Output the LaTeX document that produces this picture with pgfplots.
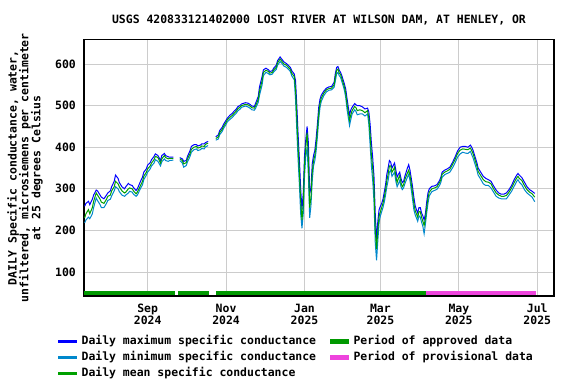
\documentclass[border=0pt]{standalone}
\usepackage{pgfplots}
\usepackage{pgfplotstable}
\pgfplotsset{compat=1.18}
\usepackage{fontspec}
\setmonofont{DejaVu Sans Mono}
\definecolor{maxblue}{RGB}{0,0,255}
\definecolor{minteal}{RGB}{0,136,204}
\definecolor{meangreen}{RGB}{0,160,0}
\definecolor{apgreen}{RGB}{0,153,0}
\definecolor{provmag}{RGB}{238,68,221}
\definecolor{gridgray}{RGB}{204,204,204}
\newcommand{\pf}{\ttfamily\bfseries\fontsize{11.5}{12}\selectfont}

% day numbers counted from 2024-07-01 (Aug 1 = 31, Sep 1 = 62, Jan 1 2025 = 184, Jul 1 2025 = 365)
\pgfplotstableread{
d mx mn me
13 258 218 230
14 265 225 240
16 270 232 250
17 262 228 240
19 275 240 255
20 285 255 270
22 297 278 290
23 295 272 285
25 285 262 275
26 280 255 268
28 276 255 265
30 285 265 275
31 290 272 282
33 295 275 285
34 305 283 295
36 318 295 305
37 333 305 318
39 325 300 312
40 315 293 305
42 305 285 295
44 300 282 290
45 305 285 292
47 313 290 300
48 310 294 302
50 308 292 300
51 303 287 295
53 296 282 288
54 300 285 292
56 315 298 305
58 328 310 318
59 340 322 330
61 348 333 340
62 357 340 348
64 363 348 355
65 370 355 362
67 378 362 370
68 384 370 378
70 380 366 375
72 368 355 362
73 380 365 372
75 385 372 380
76 380 368 375
78 377 366 372
79 376 368 373
82 376 369 373
83 nan nan nan
87 375 368 372
89 372 362 368
90 366 352 360
92 368 356 363
93 378 365 372
95 392 378 385
96 402 388 395
98 406 394 400
100 406 396 402
101 403 392 398
103 405 394 400
104 408 397 403
106 408 396 402
107 411 401 407
109 414 404 410
110 nan nan nan
115 425 417 421
117 430 420 425
118 440 430 435
120 448 438 443
121 455 445 450
123 465 455 460
124 470 461 466
126 477 467 472
128 482 472 477
129 486 476 481
131 492 482 487
132 497 487 492
134 501 492 497
135 504 496 500
137 506 498 502
138 507 499 503
140 506 497 502
142 502 493 498
143 499 490 495
145 498 489 494
146 506 494 500
148 522 508 515
149 545 525 535
151 570 550 560
152 586 572 580
154 590 580 585
156 586 577 582
157 582 574 578
159 584 576 580
160 590 581 586
162 597 587 592
163 608 597 603
165 617 606 612
166 613 603 608
168 605 595 600
170 601 592 597
171 598 589 594
173 592 582 587
174 584 572 578
176 576 562 570
177 560 515 540
178 500 440 470
179 430 370 400
180 370 310 340
181 300 240 270
182 250 205 225
183 290 240 260
184 380 330 360
185 420 380 400
186 450 400 435
187 410 330 370
188 290 230 255
189 300 260 280
190 360 320 340
191 380 355 368
192 392 368 380
193 420 390 405
194 455 425 440
195 495 465 480
196 515 495 505
197 525 510 518
199 535 524 530
201 542 533 538
203 545 537 541
205 546 538 542
207 556 544 550
208 578 560 570
209 592 577 585
210 594 580 588
211 585 572 578
212 580 568 575
213 572 558 565
214 562 548 555
215 552 537 545
216 540 520 530
217 518 492 505
218 497 472 485
219 478 452 465
220 490 467 478
221 496 480 488
223 505 490 498
224 502 486 495
225 500 478 488
227 500 480 490
229 497 480 488
231 492 475 483
233 494 480 488
234 485 455 470
235 455 405 430
236 410 355 380
237 375 320 350
238 330 270 300
239 240 170 200
240 178 128 155
241 222 175 200
242 250 220 235
243 258 235 245
244 265 245 255
245 275 255 265
246 292 268 280
247 310 285 297
248 335 305 320
249 350 320 335
250 368 340 355
251 364 345 355
252 350 330 340
253 356 335 345
254 362 340 352
255 345 318 330
256 328 305 315
257 335 312 325
258 340 320 332
259 325 305 315
260 315 298 305
261 318 302 310
262 330 312 322
263 340 320 330
264 350 328 338
265 358 335 345
266 345 320 332
267 325 298 312
268 305 275 290
269 280 250 265
270 260 238 248
271 250 230 240
272 242 222 232
273 255 235 245
274 255 232 245
275 242 220 232
276 235 210 222
277 225 192 212
278 240 215 228
279 268 242 255
280 290 265 278
281 300 283 292
283 306 293 300
285 307 296 302
287 310 299 305
289 320 308 315
290 328 315 322
291 340 328 335
293 345 334 340
295 348 337 343
297 352 340 347
299 363 350 358
301 376 362 370
303 391 376 385
305 400 384 393
307 402 388 396
309 402 386 395
311 400 385 394
313 405 390 398
314 400 382 392
315 393 375 385
316 383 365 375
317 373 355 365
318 363 345 355
319 350 333 342
321 340 323 332
323 330 312 322
325 325 308 317
327 322 308 316
329 318 302 312
331 307 292 300
333 297 282 290
335 290 278 285
337 287 276 282
339 287 276 282
341 290 276 284
343 298 285 292
345 308 294 302
347 322 306 315
349 333 318 326
350 337 322 330
351 333 316 325
353 327 310 320
355 316 298 308
357 305 290 298
359 298 285 292
361 294 280 288
363 289 269 280
}\sc

\begin{document}
\begin{tikzpicture}
\begin{axis}[
  at={(84bp,88bp)}, anchor=south west,
  scale only axis, width=470bp, height=256.5bp,
  xmin=12.5, xmax=378, ymin=42.3, ymax=659,
  axis line style={line width=1.3bp, black},
  xtick={62,123,184,243,304,365},
  xticklabels={{Sep\\2024},{Nov\\2024},{Jan\\2025},{Mar\\2025},{May\\2025},{Jul\\2025}},
  ytick={100,200,300,400,500,600},
  major tick length=0pt,
  grid=major,
  major grid style={line width=1bp, gridgray},
  tick label style={font=\pf, inner sep=0pt},
  xticklabel style={align=center, yshift=-8bp},
  yticklabel style={xshift=-8bp},
  /pgf/number format/assume math mode=true,
  unbounded coords=jump,
  title={USGS 420833121402000 LOST RIVER AT WILSON DAM, AT HENLEY, OR},
  title style={font=\pf, at={(axis description cs:0.5,1.053)}, anchor=center, yshift=0pt, inner sep=0pt},
  ylabel={DAILY Specific conductance, water,\\unfiltered, microsiemens per centimeter\\at 25 degrees Celsius},
  every axis y label/.style={at={(axis description cs:-0.1255,0.5)}, rotate=90, anchor=center, align=center, font=\ttfamily\bfseries\fontsize{11.5}{12}\selectfont, inner sep=0pt},
  legend columns=2,
  legend cell align=left,
  legend style={at={(-0.0553,-0.144)}, anchor=north west, draw=none, fill=none,
    font=\pf, inner sep=0pt, row sep=0pt,
    nodes={text height=9bp, text depth=3bp, inner sep=2bp},
    /tikz/every even column/.append style={column sep=12bp}},
]
\addplot[forget plot, color=apgreen, line width=4bp] coordinates {(12.5,49.5) (83.3,49.5)};
\addplot[forget plot, color=apgreen, line width=4bp] coordinates {(85.5,49.5) (109.7,49.5)};
\addplot[forget plot, color=apgreen, line width=4bp] coordinates {(115,49.5) (278.4,49.5)};
\addplot[forget plot, color=provmag, line width=4bp] coordinates {(278.4,49.5) (363.9,49.5)};
\addplot[forget plot, color=maxblue, line width=1bp] table[x=d, y=mx] {\sc};
\addplot[forget plot, color=minteal, line width=1bp] table[x=d, y=mn] {\sc};
\addplot[forget plot, color=meangreen, line width=1bp] table[x=d, y=me] {\sc};
\addlegendimage{legend image code/.code={\fill[maxblue] (0bp,-0.6bp) rectangle (18bp,0.6bp); \path (21bp,0bp);}}
\addlegendentry{Daily maximum specific conductance}
\addlegendimage{legend image code/.code={\fill[apgreen] (0bp,-2bp) rectangle (18bp,2bp); \path (21bp,0bp);}}
\addlegendentry{Period of approved data}
\addlegendimage{legend image code/.code={\fill[minteal] (0bp,-0.6bp) rectangle (18bp,0.6bp); \path (21bp,0bp);}}
\addlegendentry{Daily minimum specific conductance}
\addlegendimage{legend image code/.code={\fill[provmag] (0bp,-2bp) rectangle (18bp,2bp); \path (21bp,0bp);}}
\addlegendentry{Period of provisional data}
\addlegendimage{legend image code/.code={\fill[meangreen] (0bp,-0.6bp) rectangle (18bp,0.6bp); \path (21bp,0bp);}}
\addlegendentry{Daily mean specific conductance}
\end{axis}
\pgfresetboundingbox
\path (0,0) rectangle (576bp,384bp);
\end{tikzpicture}
\end{document}
